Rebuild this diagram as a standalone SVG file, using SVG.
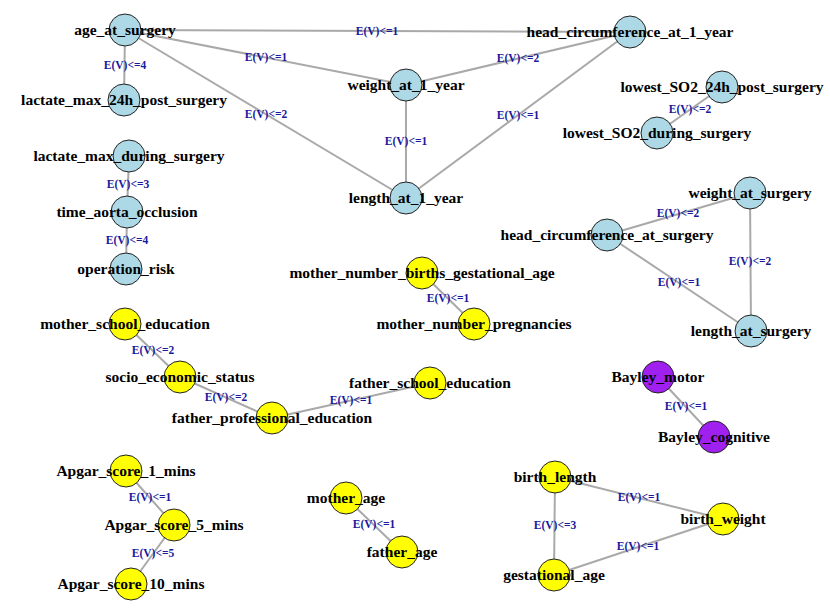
<svg xmlns="http://www.w3.org/2000/svg" width="830" height="609" viewBox="0 0 830 609">
<style>
.e{stroke:#a9a9a9;stroke-width:2;fill:none}
.el{font-family:"Liberation Serif","Times New Roman",serif;font-weight:bold;font-size:11.5px;fill:#1a1a9c;text-anchor:middle;dominant-baseline:central}
.n circle{stroke:#222;stroke-width:1}
.b{fill:#add8e6}.y{fill:#ffff00}.p{fill:#a020f0}
.n text{font-family:"Liberation Serif","Times New Roman",serif;font-weight:bold;font-size:15.5px;fill:#000;text-anchor:middle}
</style>
<rect width="830" height="609" fill="#fff"/>
<g id="connectors">
<line class="e" x1="125" y1="30" x2="630" y2="32"/>
<line class="e" x1="125" y1="30" x2="406" y2="85"/>
<line class="e" x1="125" y1="30" x2="406" y2="198"/>
<line class="e" x1="125" y1="30" x2="124" y2="100"/>
<line class="e" x1="406" y1="85" x2="630" y2="32"/>
<line class="e" x1="406" y1="85" x2="406" y2="198"/>
<line class="e" x1="406" y1="198" x2="630" y2="32"/>
<line class="e" x1="722" y1="87" x2="657" y2="133"/>
<line class="e" x1="129" y1="156" x2="127" y2="212"/>
<line class="e" x1="127" y1="212" x2="126" y2="269"/>
<line class="e" x1="607" y1="235" x2="750" y2="193"/>
<line class="e" x1="607" y1="235" x2="751" y2="331"/>
<line class="e" x1="750" y1="193" x2="751" y2="331"/>
<line class="e" x1="422" y1="273" x2="474" y2="324"/>
<line class="e" x1="125" y1="324" x2="180" y2="377"/>
<line class="e" x1="180" y1="377" x2="272" y2="418"/>
<line class="e" x1="272" y1="418" x2="430" y2="383"/>
<line class="e" x1="658" y1="377" x2="714" y2="437"/>
<line class="e" x1="126" y1="471" x2="174" y2="525"/>
<line class="e" x1="174" y1="525" x2="131" y2="584"/>
<line class="e" x1="346" y1="498" x2="402" y2="552"/>
<line class="e" x1="555" y1="477" x2="723" y2="519"/>
<line class="e" x1="555" y1="477" x2="554" y2="575"/>
<line class="e" x1="723" y1="519" x2="554" y2="575"/>
<text class="el" x="377" y="31">E(V)&lt;=1</text>
<text class="el" x="266" y="57">E(V)&lt;=1</text>
<text class="el" x="266" y="114">E(V)&lt;=2</text>
<text class="el" x="125" y="65">E(V)&lt;=4</text>
<text class="el" x="518" y="58">E(V)&lt;=2</text>
<text class="el" x="406" y="141">E(V)&lt;=1</text>
<text class="el" x="518" y="115">E(V)&lt;=1</text>
<text class="el" x="690" y="109">E(V)&lt;=2</text>
<text class="el" x="128" y="184">E(V)&lt;=3</text>
<text class="el" x="127" y="240">E(V)&lt;=4</text>
<text class="el" x="678" y="213">E(V)&lt;=2</text>
<text class="el" x="679" y="282">E(V)&lt;=1</text>
<text class="el" x="750" y="261">E(V)&lt;=2</text>
<text class="el" x="448" y="298">E(V)&lt;=1</text>
<text class="el" x="153" y="350">E(V)&lt;=2</text>
<text class="el" x="226" y="397">E(V)&lt;=2</text>
<text class="el" x="351" y="400">E(V)&lt;=1</text>
<text class="el" x="686" y="406">E(V)&lt;=1</text>
<text class="el" x="150" y="497">E(V)&lt;=1</text>
<text class="el" x="153" y="553">E(V)&lt;=5</text>
<text class="el" x="374" y="524">E(V)&lt;=1</text>
<text class="el" x="639" y="497">E(V)&lt;=1</text>
<text class="el" x="555" y="525">E(V)&lt;=3</text>
<text class="el" x="638" y="546">E(V)&lt;=1</text>
</g>
<g id="age_at_surgery" class="n"><circle class="b" cx="125" cy="30" r="16"/><text x="125" y="35">age_at_surgery</text></g>
<g id="head_circumference_at_1_year" class="n"><circle class="b" cx="630" cy="32" r="16"/><text x="630" y="37">head_circumference_at_1_year</text></g>
<g id="weight_at_1_year" class="n"><circle class="b" cx="406" cy="85" r="16"/><text x="406" y="90">weight_at_1_year</text></g>
<g id="length_at_1_year" class="n"><circle class="b" cx="406" cy="198" r="16"/><text x="406" y="203">length_at_1_year</text></g>
<g id="lactate_max_24h_post_surgery" class="n"><circle class="b" cx="124" cy="100" r="16"/><text x="124" y="105">lactate_max_24h_post_surgery</text></g>
<g id="lowest_SO2_24h_post_surgery" class="n"><circle class="b" cx="722" cy="87" r="16"/><text x="722" y="92">lowest_SO2_24h_post_surgery</text></g>
<g id="lowest_SO2_during_surgery" class="n"><circle class="b" cx="657" cy="133" r="16"/><text x="657" y="138">lowest_SO2_during_surgery</text></g>
<g id="lactate_max_during_surgery" class="n"><circle class="b" cx="129" cy="156" r="16"/><text x="129" y="161">lactate_max_during_surgery</text></g>
<g id="time_aorta_occlusion" class="n"><circle class="b" cx="127" cy="212" r="16"/><text x="127" y="217">time_aorta_occlusion</text></g>
<g id="operation_risk" class="n"><circle class="b" cx="126" cy="269" r="16"/><text x="126" y="274">operation_risk</text></g>
<g id="weight_at_surgery" class="n"><circle class="b" cx="750" cy="193" r="16"/><text x="750" y="198">weight_at_surgery</text></g>
<g id="head_circumference_at_surgery" class="n"><circle class="b" cx="607" cy="235" r="16"/><text x="607" y="240">head_circumference_at_surgery</text></g>
<g id="length_at_surgery" class="n"><circle class="b" cx="751" cy="331" r="16"/><text x="751" y="336">length_at_surgery</text></g>
<g id="mother_number_births_gestational_age" class="n"><circle class="y" cx="422" cy="273" r="16"/><text x="422" y="278">mother_number_births_gestational_age</text></g>
<g id="mother_number_pregnancies" class="n"><circle class="y" cx="474" cy="324" r="16"/><text x="474" y="329">mother_number_pregnancies</text></g>
<g id="mother_school_education" class="n"><circle class="y" cx="125" cy="324" r="16"/><text x="125" y="329">mother_school_education</text></g>
<g id="socio_economic_status" class="n"><circle class="y" cx="180" cy="377" r="16"/><text x="180" y="382">socio_economic_status</text></g>
<g id="father_professional_education" class="n"><circle class="y" cx="272" cy="418" r="16"/><text x="272" y="423">father_professional_education</text></g>
<g id="father_school_education" class="n"><circle class="y" cx="430" cy="383" r="16"/><text x="430" y="388">father_school_education</text></g>
<g id="Bayley_motor" class="n"><circle class="p" cx="658" cy="377" r="16"/><text x="658" y="382">Bayley_motor</text></g>
<g id="Bayley_cognitive" class="n"><circle class="p" cx="714" cy="437" r="16"/><text x="714" y="442">Bayley_cognitive</text></g>
<g id="Apgar_score_1_mins" class="n"><circle class="y" cx="126" cy="471" r="16"/><text x="126" y="476">Apgar_score_1_mins</text></g>
<g id="Apgar_score_5_mins" class="n"><circle class="y" cx="174" cy="525" r="16"/><text x="174" y="530">Apgar_score_5_mins</text></g>
<g id="Apgar_score_10_mins" class="n"><circle class="y" cx="131" cy="584" r="16"/><text x="131" y="589">Apgar_score_10_mins</text></g>
<g id="mother_age" class="n"><circle class="y" cx="346" cy="498" r="16"/><text x="346" y="503">mother_age</text></g>
<g id="father_age" class="n"><circle class="y" cx="402" cy="552" r="16"/><text x="402" y="557">father_age</text></g>
<g id="birth_length" class="n"><circle class="y" cx="555" cy="477" r="16"/><text x="555" y="482">birth_length</text></g>
<g id="birth_weight" class="n"><circle class="y" cx="723" cy="519" r="16"/><text x="723" y="524">birth_weight</text></g>
<g id="gestational_age" class="n"><circle class="y" cx="554" cy="575" r="16"/><text x="554" y="580">gestational_age</text></g>
</svg>
